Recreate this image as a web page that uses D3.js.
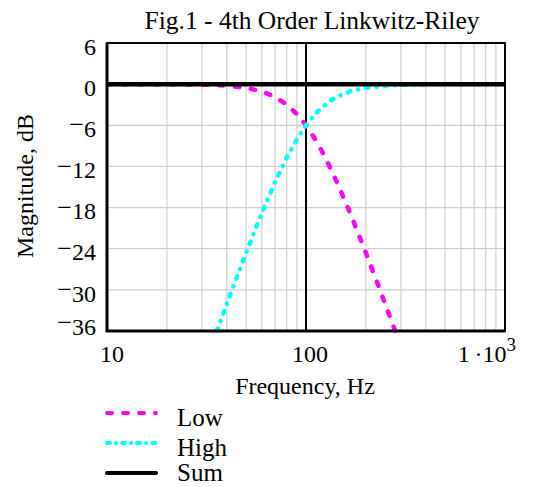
<!DOCTYPE html>
<html lang="en">
<head>
<meta charset="UTF-8">
<title>Fig.1 - 4th Order Linkwitz-Riley</title>
<script src="https://cdn.jsdelivr.net/npm/d3@7"></script>
<style>
    body{ margin:0; background:#fff; }
    svg text{ font-family:"Liberation Serif","Times New Roman",serif; fill:#000; }
    .grid line{ stroke:#cfcfcf; stroke-width:1.2px; }
</style>
</head>
<body>
<svg id="chart" width="536" height="487"></svg>
<script>
// crossover response
const lowFreq  = [10, 20, 30, 40, 50, 60, 70, 80, 90, 100, 110, 120, 135, 150, 170, 200, 230, 260, 280, 281];
const lowDb    = [0, -0.01, -0.07, -0.22, -0.53, -1.06, -1.87, -2.98, -4.37, -6.02, -7.83, -9.75, -12.71, -15.66, -19.42, -24.61, -29.24, -33.39, -35.91, -36];
const highFreq = [35.6, 36, 40, 45, 50, 55, 60, 70, 80, 90, 100, 110, 120, 135, 150, 170, 200, 250, 300, 400, 500, 700, 1000];
const highDb   = [-36, -35.64, -32.05, -28.09, -24.61, -21.53, -18.81, -14.26, -10.73, -8.04, -6.02, -4.52, -3.42, -2.29, -1.57, -0.98, -0.53, -0.22, -0.11, -0.03, -0.01, 0, 0];
const sumFreq  = [10, 1000];
const sumDb    = [0, 0];

const yTicks = [6, 0, -6, -12, -18, -24, -30, -36];
const xMinor = [20, 30, 40, 50, 60, 70, 80, 90, 200, 300, 400, 500, 600, 700, 800, 900];
const legendNames = ['Low', 'High', 'Sum'];

const svg = d3.select('#chart');
const pL = 107, pR = 505, pT = 43, pB = 331;

const x = d3.scaleLog().domain([10, 1000]).range([pL, pR]);
const y = d3.scaleLinear().domain([-36, 6]).range([pB, pT]);

// grid
const grid = svg.append('g').attr('class', 'grid');
grid.selectAll('.vx').data(xMinor).enter().append('line')
    .attr('x1', d => x(d)).attr('x2', d => x(d))
    .attr('y1', pT).attr('y2', pB);
grid.selectAll('.hy').data(yTicks.filter(d => d < 6 && d > -36)).enter().append('line')
    .attr('x1', pL).attr('x2', pR)
    .attr('y1', d => y(d)).attr('y2', d => y(d));

// marker at 100 Hz
svg.append('line')
    .attr('x1', x(100)).attr('x2', x(100))
    .attr('y1', pT).attr('y2', pB)
    .attr('stroke', '#000').attr('stroke-width', 2);

svg.append('clipPath').attr('id', 'clip').append('rect')
    .attr('x', pL).attr('y', pT).attr('width', pR - pL).attr('height', pB - pT + 2);

const line = d3.line().x(d => x(d[0])).y(d => y(d[1]));
const plot = svg.append('g').attr('clip-path', 'url(#clip)');

const series = [
    {name: 'Low',  pts: d3.zip(lowFreq, lowDb),   color: '#ff00ff', dash: '4.5,11.5',    w: 4.5},
    {name: 'High', pts: d3.zip(highFreq, highDb), color: '#00ffff', dash: '2.5,8,0.1,8', w: 4.5},
    {name: 'Sum',  pts: d3.zip(sumFreq, sumDb),   color: '#000000', dash: null,          w: 4.5}
];

series.forEach(s => {
    plot.append('path')
        .attr('d', line(s.pts))
        .attr('fill', 'none')
        .attr('stroke', s.color)
        .attr('stroke-width', s.w)
        .attr('stroke-linecap', 'round')
        .attr('stroke-dasharray', s.dash);
});

// frame
svg.append('rect')
    .attr('x', pL).attr('y', pT).attr('width', pR - pL).attr('height', pB - pT)
    .attr('fill', 'none').attr('stroke', '#000').attr('stroke-width', 2);
svg.append('path')
    .attr('d', `M${pL},${pT}V${pB}H${pR}`)
    .attr('fill', 'none').attr('stroke', '#000').attr('stroke-width', 3);

// y tick labels (raised minus sign)
const yl = svg.append('g');
yTicks.forEach(v => {
    const t = yl.append('text')
        .attr('x', 96)
        .attr('y', Math.min(y(v) + 6, pB - 2))
        .attr('text-anchor', 'end')
        .attr('dominant-baseline', 'middle')
        .style('font-size', '24px');
    if (v < 0) {
        t.append('tspan').attr('dy', '-0.15em').style('font-size', '26px').text('\u2212');
        t.append('tspan').attr('dy', '0.15em').text(Math.abs(v));
    } else {
        t.text(v);
    }
});

// x tick labels
svg.append('text').attr('x', x(10) + 5).attr('y', 362)
    .attr('text-anchor', 'middle').style('font-size', '24px').text('10');
svg.append('text').attr('x', x(100) + 4).attr('y', 362)
    .attr('text-anchor', 'middle').style('font-size', '24px').text('100');
const k = svg.append('text').attr('x', 516).attr('y', 362)
    .attr('text-anchor', 'end').style('font-size', '24px');
k.append('tspan').text('1\u2009\u00b710');
k.append('tspan').attr('dy', '-0.6em').style('font-size', '19px').text('3');

// titles
svg.append('text').attr('x', 312).attr('y', 29)
    .attr('text-anchor', 'middle').style('font-size', '25.5px')
    .text('Fig.1 - 4th Order Linkwitz-Riley');
svg.append('text').attr('x', 305).attr('y', 394)
    .attr('text-anchor', 'middle').style('font-size', '24px')
    .text('Frequency, Hz');
svg.append('text')
    .attr('transform', 'translate(33,186) rotate(-90)')
    .attr('text-anchor', 'middle').style('font-size', '24px')
    .text('Magnitude, dB');

// legend
const legend = svg.append('g');
legendNames.forEach((n, i) => {
    const s = series.find(d => d.name === n);
    const ly = 413 + i * 30;
    legend.append('line')
        .attr('x1', 107).attr('x2', 156).attr('y1', ly).attr('y2', ly)
        .attr('stroke', s.color).attr('stroke-width', 4)
        .attr('stroke-linecap', 'round')
        .attr('stroke-dasharray', n === 'Low' ? '5,11' : n === 'High' ? '3,6,0.1,6' : null);
    legend.append('text')
        .attr('x', 177).attr('y', Math.min(ly + 13, 481))
        .style('font-size', '25px')
        .text(n);
});
</script>
</body>
</html>
